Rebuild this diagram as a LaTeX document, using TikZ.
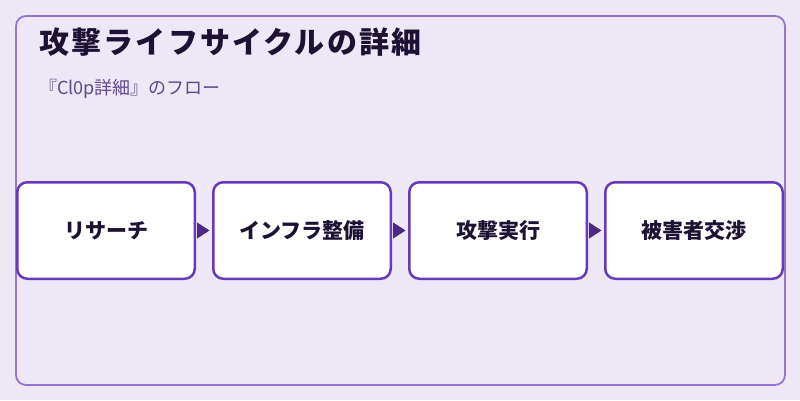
\documentclass[tikz,border=0pt]{standalone}
\usepackage{fontspec}
\setmainfont{Noto Sans CJK JP}
\newfontfamily\titlefont[LetterSpace=7]{Noto Sans CJK JP}
\usepackage{xcolor}
\usepackage{tikz}
\usetikzlibrary{arrows.meta}
\usetikzlibrary{positioning}
\definecolor{bgpurple}{HTML}{EDE7F6}
\definecolor{framepurple}{HTML}{9575CD}
\definecolor{boxpurple}{HTML}{673AB7}
\definecolor{tippurple}{HTML}{4A2A82}
\definecolor{inkdark}{HTML}{1E1234}
\definecolor{subgray}{HTML}{5E4B8B}
\tikzset{>=latex}
\tikzstyle{stage} = [rectangle, rounded corners=10pt, draw=boxpurple, line width=2.5pt, fill=white, minimum width=177.5pt, minimum height=96.5pt, inner sep=0, text=inkdark, font=\fontsize{21}{24}\selectfont\bfseries]
\tikzstyle{flow} = [-{Triangle[length=12.5pt, width=16pt]}, draw=tippurple, fill=tippurple, line width=1pt, shorten <=3pt, shorten >=2.5pt]

\begin{document}
\begin{tikzpicture}[x=1pt, y=1pt]
\fill [bgpurple] (0, 0) rectangle (800, 400);
\useasboundingbox (0, 0) rectangle (800, 400);
\draw [framepurple, line width=1.8pt, rounded corners=10pt] (16, 15) rectangle (785, 384);
\node [draw=none, anchor=base west, inner sep=0, text=inkdark, font=\titlefont\fontsize{30}{34}\selectfont\bfseries] (title) at (39.5, 346) {攻撃ライフサイクルの詳細};
\node [draw=none, anchor=base west, inner sep=0, text=subgray, font=\fontsize{18}{21}\selectfont] (sub) at (39, 306) {『Cl0p詳細』のフロー};
\node [stage] (R) at (106, 169.5) {リサーチ};
\node [stage, right=16pt of R] (I) {インフラ整備};
\node [stage, right=16pt of I] (A) {攻撃実行};
\node [stage, right=16pt of A] (N) {被害者交渉};
\draw [flow] (R) to (I);
\draw [flow] (I) to (A);
\draw [flow] (A) to (N);
\end{tikzpicture}
\end{document}
